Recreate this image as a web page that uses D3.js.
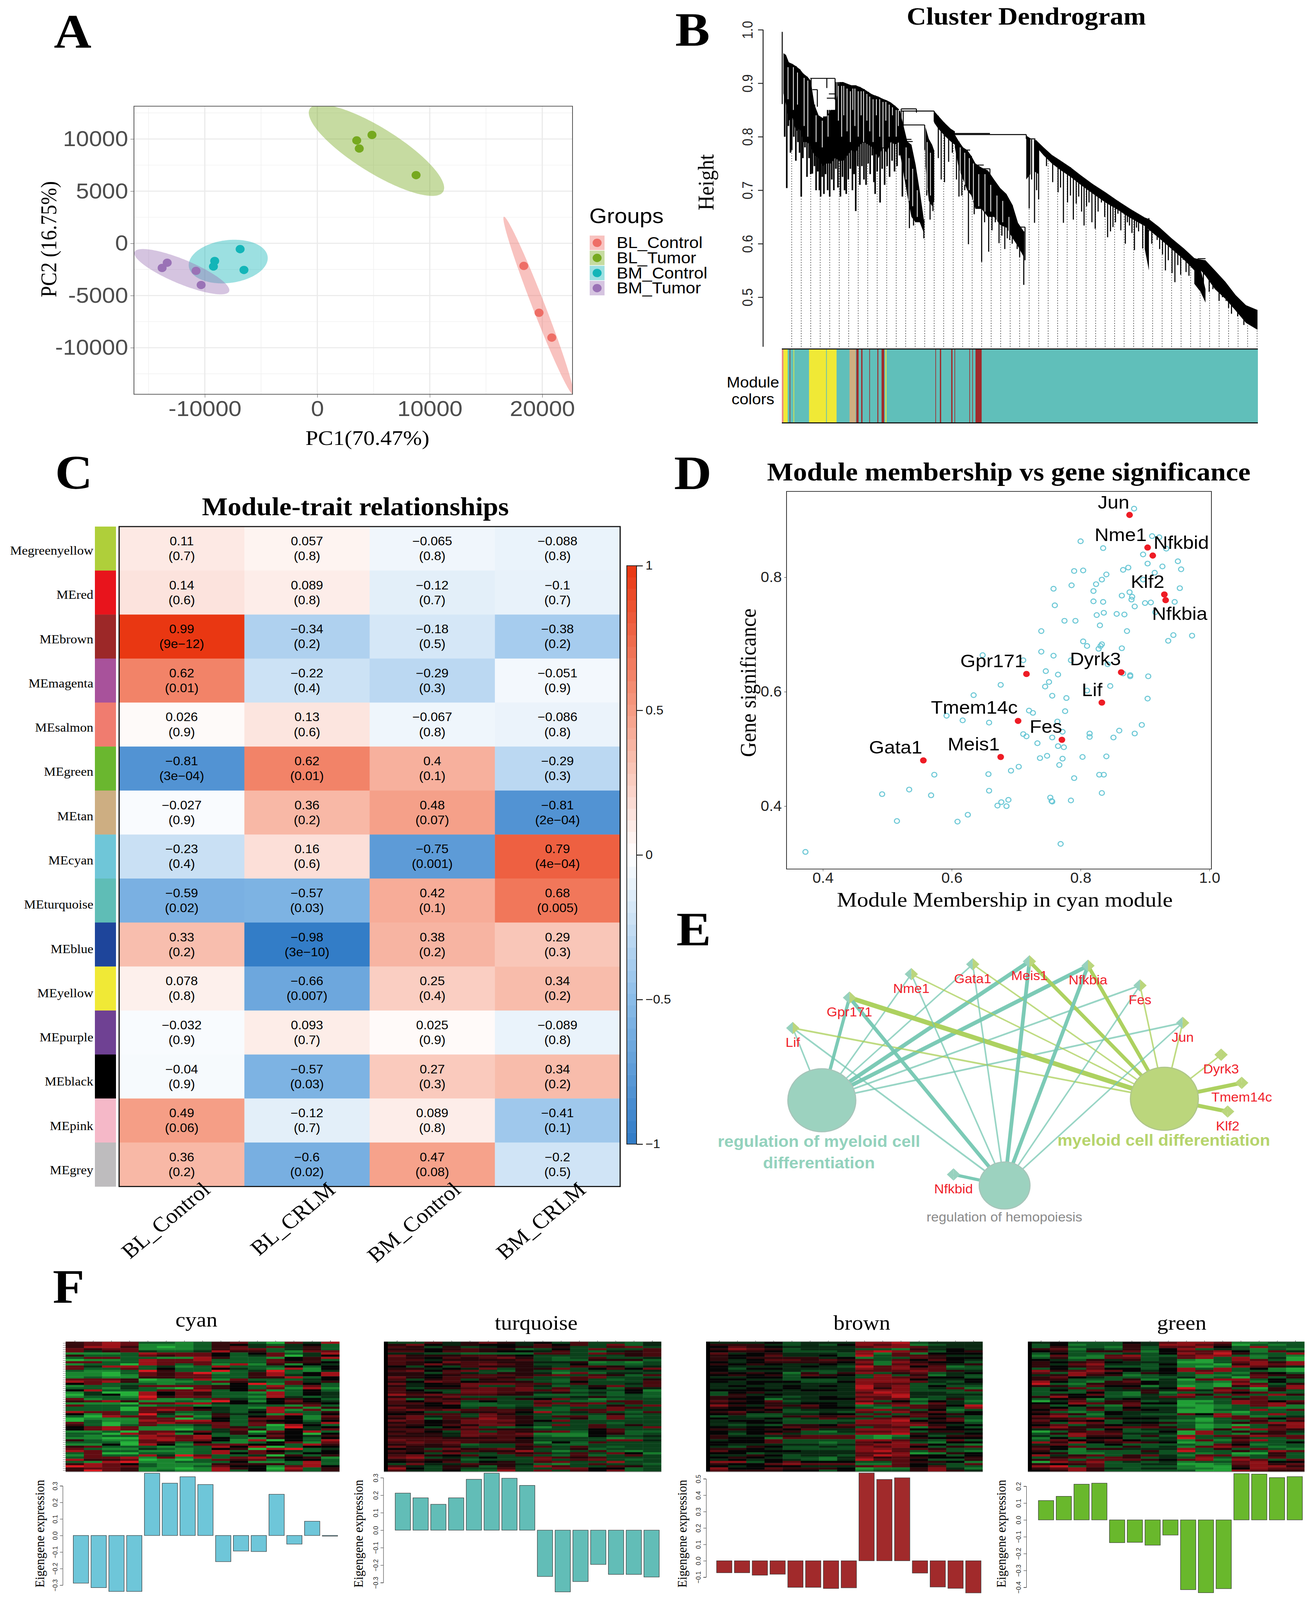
<!DOCTYPE html>
<html>
<head>
<meta charset="utf-8">
<script src="https://cdn.jsdelivr.net/npm/d3@7"></script>
<style>
  html, body { margin: 0; padding: 0; background: #fff; overflow: hidden; }
  svg { display: block; }
</style>
</head>
<body>
<div id="chart"></div>
<script>
// ---- A: PCA ----
var pcaGroups = ["BL_Control", "BL_Tumor", "BM_Control", "BM_Tumor"];
var pcaColors = ["#EE6E66", "#76A91F", "#13B5B8", "#9A72B6"];
var pc1 = [18357, 19714, 20845, 3505, 4862, 3731, 8782, -6860, -9122, -9235, -6521, -13343, -13796, -10780, -10328];
var pc2 = [-2160, -6648, -9030, 9861, 10388, 9086, 6537, -554, -1690, -2216, -2548, -1856, -2355, -2632, -3989];
var pcaGroupOf = [0, 0, 0, 1, 1, 1, 1, 2, 2, 2, 2, 3, 3, 3, 3];
// ellipse per group: centre, half major axis vector, half minor length
var ellCx = [19660, 5259, -7917, -12045];
var ellCy = [-5955, 8920, -1745, -2715];
var ellAx = [3070, 5900, 3500, 4200];
var ellAy = [-8503, -4016, 500, -1900];
var ellB = [560, 2100, 2050, 1150];

// ---- B: dendrogram, [order, top height, bottom height] ----
var massLeft = [[3,.956,.881],[9,.953,.860],[16,.939,.830],[25,.936,.835],[33,.932,.810],[43,.926,.815],[51,.918,.790],[61,.912,.790],[69,.905,.780],[78,.860,.765],[88,.840,.760],[98,.835,.745],[108,.838,.750],[118,.850,.750],[128,.850,.760],[138,.902,.755],[148,.902,.755],[158,.899,.765],[168,.896,.775],[178,.896,.770],[188,.893,.785],[198,.889,.790],[208,.884,.785],[218,.879,.780],[225,.877,.770],[233,.875,.760],[243,.871,.780],[253,.868,.770],[263,.864,.790],[273,.858,.785],[283,.851,.790]];
var massFall1 = [[285,.848,.770],[293,.823,.735],[303,.791,.690],[313,.785,.650],[323,.748,.640],[333,.699,.640],[343,.645,.620]];
var massFall2 = [[347,.818,.745],[355,.796,.680],[363,.785,.670],[368,.774,.680]];
var massShoulder = [[368,.848,.826],[378,.839,.815],[393,.826,.802],[408,.815,.791],[418,.810,.785]];
var massFall3 = [[418,.804,.780],[428,.791,.740],[438,.780,.720],[448,.775,.700],[458,.764,.690],[468,.750,.665],[483,.742,.665],[498,.737,.650],[513,.720,.650],[528,.704,.635],[543,.693,.630],[558,.672,.610],[571,.639,.595],[585,.623,.575]];
var massDrop1 = [[591,.802,.720],[601,.797,.730]];
var massDrop2 = [[611,.795,.735],[621,.780,.730]];
var massSlope = [[613,.795,.783],[633,.780,.765],[653,.766,.750],[673,.756,.738],[698,.743,.725],[723,.728,.710],[753,.711,.693],[783,.696,.677],[813,.680,.663],[843,.665,.648],[878,.649,.633],[888,.646,.626],[913,.631,.610],[943,.610,.590],[973,.591,.570],[998,.573,.550],[1008,.571,.555],[1025,.569,.540],[1048,.550,.515],[1073,.529,.497],[1098,.504,.475],[1123,.485,.452],[1151,.476,.439]];
var massDrop3 = [[878,.640,.590],[888,.623,.550]];
var massDrop4 = [[998,.569,.525],[1013,.553,.510],[1025,.515,.490]];
var dendroMasses = [massLeft, massFall1, massFall2, massShoulder, massFall3, massDrop1, massDrop2, massSlope, massDrop3, massDrop4];
var dripOrder = [6,11,15,20,23,28,33,38,42,46,50,55,60,65,69,73,78,82,86,90,93,97,101,105,110,115,120,125,130,135,141,146,151,155,160,165,170,174,178,183,188,193,198,203,208,213,218,222,225,230,237,242,248,254,260,266,272,278,284,291,297,308,318,328,343,350,358,365,378,385,393,403,412,422,428,435,442,451,458,465,472,483,490,500,508,516,525,532,539,545,551,557,563,569,575,585,598,604,611,616,621,640,655,668,674,681,691,698,705,712,718,725,731,737,743,750,758,765,773,781,788,795,801,807,813,820,831,836,841,847,853,858,863,873,895,908,914,921,928,935,944,951,958,965,971,978,985,1011,1020,1034,1043,1050,1058,1066,1075,1081,1088,1095,1103,1110,1118,1130,1140];
var dripLow = [.800,.704,.820,.770,.775,.800,.755,.790,.770,.688,.760,.780,.725,.760,.730,.731,.745,.700,.735,.700,.688,.725,.693,.730,.700,.688,.720,.700,.740,.705,.688,.725,.700,.693,.720,.740,.700,.730,.661,.745,.710,.745,.720,.710,.750,.730,.765,.715,.693,.735,.677,.740,.710,.745,.725,.755,.735,.745,.765,.688,.740,.629,.634,.640,.610,.690,.645,.661,.760,.720,.715,.753,.770,.720,.688,.690,.700,.599,.700,.655,.690,.566,.640,.585,.625,.640,.601,.615,.590,.610,.607,.600,.607,.590,.575,.523,.666,.720,.639,.700,.683,.745,.715,.696,.705,.639,.677,.690,.645,.675,.688,.660,.634,.670,.677,.640,.628,.660,.677,.650,.612,.623,.631,.640,.656,.625,.600,.640,.634,.620,.588,.630,.623,.591,.600,.607,.590,.580,.550,.569,.545,.528,.560,.542,.570,.547,.540,.520,.520,.510,.515,.535,.493,.500,.493,.480,.469,.485,.464,.470,.448,.455,.445];
var branches = [[68,128,.909],[288,325,.852],[288,368,.848],[293,345,.822],[418,591,.804],[418,503,.806],[591,613,.796],[443,455,.775],[473,488,.747],[483,503,.740],[573,588,.631],[1006,1025,.572],[298,316,.791],[298,313,.795],[73,85,.888],[108,128,.872],[113,128,.880]];
var stems = [[0,.996,.861],[70,.909,.893],[108,.909,.891],[128,.909,.869],[85,.888,.856],[325,.852,.845],[345,.822,.775],[368,.848,.828],[591,.804,.796],[588,.631,.569],[888,.648,.623],[288,.852,.834],[293,.848,.818],[503,.740,.710]];
// white gaps left open inside the left-hand tangle: order, upper end, lower end
var slitOrder = [14,27,37,53,62,82,97,111,136,144,149,157,165,171,176,184,191,197,205,212,220,228,236,244,251,259,267,276,281,300,307,316,327,351,359,431,442,453,463,476,491,505,520,534,549];
var slitTop = [.93,.93,.92,.91,.905,.84,.83,.84,.895,.895,.895,.89,.885,.89,.89,.885,.885,.885,.88,.875,.87,.87,.87,.865,.865,.86,.855,.85,.85,.78,.76,.74,.70,.79,.77,.78,.77,.76,.75,.73,.73,.71,.69,.68,.65];
var slitLow = [.87,.85,.86,.82,.80,.79,.78,.80,.83,.80,.84,.81,.79,.85,.82,.80,.84,.79,.83,.81,.79,.84,.80,.78,.83,.80,.84,.80,.82,.72,.68,.67,.65,.70,.69,.72,.71,.70,.68,.67,.66,.66,.64,.64,.61];
var heightTicks = [0.5, 0.6, 0.7, 0.8, 0.9, 1.0];
// module colour bar
var spanStart = [0,0,5,24,36,84,137,139,209,230,245,270,295,308,320,474,488,523,533,579,588,598];
var spanEnd = [1470,5,18,26,38,137,139,169,228,237,249,272,298,316,323,476,492,527,535,581,590,617];
var spanModule = ["turquoise","salmon","yellow","brown","yellow","yellow","turquoise","yellow","tan","brown","brown","brown","brown","brown","yellow","brown","brown","brown","brown","brown","brown","brown"];

// ---- C: module-trait ----
var traits = ["BL_Control", "BL_CRLM", "BM_Control", "BM_CRLM"];
var modules = ["Megreenyellow","MEred","MEbrown","MEmagenta","MEsalmon","MEgreen","MEtan","MEcyan","MEturquoise","MEblue","MEyellow","MEpurple","MEblack","MEpink","MEgrey"];
var moduleColors = ["#AFCF3A","#E8141C","#9C2828","#A8529B","#F07C6F","#6AB72F","#CDAE82","#6FC6D8","#5FBDB6","#1E459B","#F0E936","#6F4193","#000000","#F5B8C8","#BEBCBE"];
var corr = [
  [0.11,0.057,-0.065,-0.088],[0.14,0.089,-0.12,-0.1],[0.99,-0.34,-0.18,-0.38],[0.62,-0.22,-0.29,-0.051],
  [0.026,0.13,-0.067,-0.086],[-0.81,0.62,0.4,-0.29],[-0.027,0.36,0.48,-0.81],[-0.23,0.16,-0.75,0.79],
  [-0.59,-0.57,0.42,0.68],[0.33,-0.98,0.38,0.29],[0.078,-0.66,0.25,0.34],[-0.032,0.093,0.025,-0.089],
  [-0.04,-0.57,0.27,0.34],[0.49,-0.12,0.089,-0.41],[0.36,-0.6,0.47,-0.2]];
var pvals = [
  ["0.7","0.8","0.8","0.8"],["0.6","0.8","0.7","0.7"],["9e−12","0.2","0.5","0.2"],["0.01","0.4","0.3","0.9"],
  ["0.9","0.6","0.8","0.8"],["3e−04","0.01","0.1","0.3"],["0.9","0.2","0.07","2e−04"],["0.4","0.6","0.001","4e−04"],
  ["0.02","0.03","0.1","0.005"],["0.2","3e−10","0.2","0.3"],["0.8","0.007","0.4","0.2"],["0.9","0.7","0.9","0.8"],
  ["0.9","0.03","0.3","0.2"],["0.06","0.7","0.8","0.1"],["0.2","0.02","0.08","0.5"]];
var corrLegendTicks = [1, 0.5, 0, -0.5, -1];

// ---- D: scatter ----
var membership = [.373,.492,.515,.534,.568,.573,.609,.625,.658,.657,.671,.677,.685,.688,.692,.704,.753,.755,.756,.785,.769,.790,.833,.829,.836,.803,.772,.767,.748,.737,.765,.774,.733,.756,.716,.711,.764,.772,.776,.814,.814,.851,.860,.884,.895,.840,.592,.617,.658,.720,.726,.634,.676,.745,.751,.756,.778,.810,.846,.904,.746,.765,.905,.877,.877,.866,.842,.785,.739,.758,.711,.648,.804,.810,.828,.831,.833,.864,.936,.944,.973,.739,.830,.872,.775,.792,.825,.836,.856,.868,.916,.760,.820,.835,.900,.909,.946,.884,.879,.880,.876,.864,.820,.954,.758,.786,.824,.833,.840,.897,.790,.804,.866,.874,.915,.927,.904,.956,.951,.897,.933,.835,.800,.911,.922,.883];
var significance = [.320,.421,.374,.429,.419,.455,.373,.385,.427,.456,.401,.407,.400,.411,.462,.469,.415,.409,.408,.410,.334,.449,.423,.455,.455,.486,.483,.472,.488,.484,.505,.503,.510,.520,.522,.526,.548,.530,.566,.527,.521,.520,.532,.527,.542,.487,.558,.550,.546,.567,.563,.594,.612,.609,.617,.593,.589,.602,.610,.588,.636,.630,.627,.629,.627,.632,.648,.655,.670,.663,.655,.664,.688,.680,.675,.680,.683,.676,.689,.699,.698,.706,.716,.706,.724,.724,.734,.738,.736,.735,.739,.751,.758,.757,.755,.756,.757,.749,.761,.766,.774,.768,.776,.781,.780,.786,.788,.796,.805,.796,.811,.812,.813,.817,.808,.819,.824,.814,.828,.840,.850,.851,.863,.872,.870,.920];
var hubGenes = ["Jun","Nme1","Nfkbid","Klf2","Nfkbia","Gpr171","Dyrk3","Lif","Tmem14c","Fes","Meis1","Gata1"];
var hubMembership = [.876,.904,.912,.930,.932,.716,.863,.833,.703,.771,.676,.556];
var hubSignificance = [.909,.852,.838,.770,.760,.631,.634,.581,.549,.516,.486,.480];
var hubLabelDx = [-41,-69,73,-43,36,-86,-66,-25,-112,-41,-69,-71];
var hubLabelDy = [-35,-35,-36,-35,37,-36,-36,-35,-37,-36,-35,-36];

// ---- E: network ----
var genes = ["Lif","Gpr171","Nme1","Gata1","Meis1","Nfkbia","Fes","Jun","Dyrk3","Tmem14c","Klf2","Nfkbid"];
var geneX = [2.5,14.6,27.8,40.9,53,65.5,76.6,85.7,93.9,98.3,95.3,36.8];
var geneY = [29.6,19.1,11,7.6,6.6,8.1,14.9,27.8,38.8,48.5,58.4,80.1];
var terms = ["regulation of myeloid cell differentiation","myeloid cell differentiation","regulation of hemopoiesis"];
var termX = [8.7,81.8,47.7];
var termY = [54.5,54,83.9];
var termSize = [8,8,6];
var edgeTerm = [0,0,0,0,0,0,0,0, 1,1,1,1,1,1,1,1,1,1,1, 2,2,2,2,2,2,2,2,2];
var edgeGene = [0,1,2,3,4,5,6,7, 0,1,2,3,4,5,6,7,8,9,10, 0,1,2,3,4,5,6,7,11];
var edgeWeight = [1,3,1,1,4,4,1.3,1.3, 1.3,5,1,1,3.5,3.5,1,1,1,4,4, 1.2,3.5,1,1,3.5,3.5,1,1,3];

// ---- F: heatmaps and eigengene bars ----
var heatCyan = ["678733236731748","678722236543453","688621236747463","767722236773463","746743348663277","222387775357348","633376775347145","377332286332568","122387783337563","773387773337665","233187372826254","748834238333535","733735335432825","322396339349324","221376792368358","221276773368458","232266773366835","777612382733345","878622237643746","573332332592753","233477776538373","332432176537282","583337783572353","241185763328354","145185763338354","233296773328434","723382237435653","678622329525754","222177884545665","733323323333273","333177754328726","333178764348272","877376334358336","527394236442835","318773726357527","122277135377526","132287885365535","731278777376548","631373347371853","578722237632945","578722134762547","223177474617583","331878253636515","323387783357546","221188785326535","632278775281538","333176353235727","225185277755386","673332338581355","732243235618934","873322238375435","371133238576355","273384973341636","377827283786562","866712137673553","328922333522383","687532226666383","987732237552785","677622128651836","697623228352736"];
var heatTurq = ["337468645373324","685465547573824","763634567633783","665676623538337","775776554732467","443322227738767","866677653333367","765767863237334","774666673226662","765877664461213","768678763352223","535376664377634","664548366835758","785783263233334","663743664182443","665677767837627","865777673378333","736736733273236","658756663253337","845688877373347","645583374236837","736678783735264","753388787823351","765388764634252","978777662223232","666833333346332","827677365831233","757735338322773","775822337878373","665522238383638","866537343233873","787877762277833","653366759347327","567738643233633","784738763772823","682779763362833","875688865833333","675688763333233","765768853837363","653583231337338","776777663335733","675383767825722","766488781115623","666487772115334","777666753333123","877777763333884","787876661527333","676723373223333","866633367373233","563867863362333","767676693137213","653833767373851","786573373272373","893435338767333","676623338378323","565735637833933","384476642137332","743662639733763","953633733885523","743522938375823"];
var heatBrown = ["444534448893444","666434358782344","576544447887444","687634443326454","566533348987356","745644438272555","655744539377644","656666452337655","645776767375754","545666658286553","656544547277646","544445439785723","535544448787733","544443347778764","656526368367345","565637653836243","445535543877553","554433348885445","545553358887435","445444448773344","454454549783533","445454449683472","555545548883337","356444447984433","364544448894444","665434547794343","655244558772363","765734447353542","655645549772743","864667542387659","655746553237638","556534448873523","675633437386735","563344553737565","343367677367643","544534743783573","455433338895672","445533348887553","434366577788645","545576663772753","665657448885555","545563247783664","535743338896445","644467772125366","655277772136555","455733338874373","555733237683255","544444347887532","436533438785367","665433338877633","755554448973732","553444447781265","446534437985535","565433248676556","454543249775336","883575553376652","655787772275437","545554447875733","855766651226842","766655352336864"];
var heatGreen = ["453335478872233","352336488761323","363326377853833","672436358343232","563667257785274","353334358796338","273278337883232","362277347838241","543646342138731","656754441137868","647844352216878","656733342128764","353755358383521","867875458783321","738753653832653","468662343223766","675433334231736","663336241788353","853267542327253","932666542218736","663755241216848","347346459273168","353744647487263","333532623375733","365732438637386","685533477373733","356245443336733","147366341138757","558767551238786","635327331123782","653635442123322","573736541133837","632354441121333","576254337582383","783344443387234","667865543137757","756534432133636","638735563236788","573654633121368","786677763128378","466353447262876","136763351836364","368774441832663","438663638377877","253553349336337","375675442727833","868567651236335","473353333275233","657336342787323","752664448363732","632333639336387","562233433231163","846736742772363","367376343837373","673777657828737","187834342337855","656733441127867","893733332116886","678643442215877","568633333118766"];
var heatSets = [heatCyan, heatTurq, heatBrown, heatGreen];
var eigenNames = ["cyan","turquoise","brown","green"];
var eigenCyan = [-.288,-.315,-.338,-.338,.376,.316,.355,.308,-.158,-.094,-.097,.249,-.052,.086,-.004];
var eigenTurq = [.212,.185,.148,.185,.291,.326,.297,.256,-.265,-.353,-.294,-.196,-.253,-.253,-.268];
var eigenBrown = [-.073,-.073,-.088,-.082,-.162,-.162,-.169,-.165,.535,.496,.506,-.075,-.16,-.168,-.196];
var eigenGreen = [.115,.14,.212,.218,-.135,-.133,-.15,-.09,-.414,-.432,-.408,.275,.272,.251,.257];
var eigenSets = [eigenCyan, eigenTurq, eigenBrown, eigenGreen];
var eigenColors = ["#6EC6D9","#62BDB7","#A12A2B","#69B82C"];
var eigenTicks = [[-.3,-.2,-.1,0,.1,.2,.3],[-.3,-.2,-.1,0,.1,.2,.3],[-.1,0,.1,.2,.3,.4,.5],[-.4,-.3,-.2,-.1,0,.1,.2]];

var SERIF = "'Liberation Serif', 'Times New Roman', serif";
var SANS = "'Liberation Sans', Arial, sans-serif";

// the drawing area fills whatever window the page gets
var svg = d3.select("#chart").append("svg")
  .attr("viewBox", "0 0 3357 4415")
  .attr("preserveAspectRatio", "none")
  .style("width", "100vw")
  .style("height", "100vh")
  .style("background", "#fff");

function txt(g, x, y, s, o) {
  o = o || {};
  var t = g.append("text")
    .attr("x", x).attr("y", y)
    .attr("font-family", o.family || SANS)
    .attr("font-size", o.size || 40)
    .attr("font-weight", o.weight || "normal")
    .attr("text-anchor", o.anchor || "middle")
    .attr("fill", o.fill || "#000")
    .text(s);
  if (o.rot != null) t.attr("transform", "rotate(" + o.rot + " " + x + " " + y + ")");
  return t;
}

function styleAxis(g, size, color, family) {
  g.selectAll("text").attr("font-size", size).attr("font-family", family || SANS).attr("fill", color);
  g.selectAll("line").attr("stroke", color);
  g.selectAll("path").attr("stroke", color);
}

// panel letters
var panelLetters = ["A","B","C","D","E","F"];
var letterX = [138,1729,141,1726,1732,135];
var letterY = [132,126,1348,1350,2608,3595];
panelLetters.forEach(function(l, i) {
  txt(svg, letterX[i], letterY[i], l, {family: SERIF, size: 133, weight: "bold", anchor: "start"});
});

// ------------------------------ A ------------------------------
(function() {
  var x = d3.scaleLinear().domain([-16300, 22690]).range([343, 1466]);
  var y = d3.scaleLinear().domain([13142, -14462]).range([293, 1088]);
  var g = svg.append("g");
  var clip = svg.append("clipPath").attr("id", "pcaClip");
  clip.append("rect").attr("x", 343).attr("y", 293).attr("width", 1123).attr("height", 795);

  var xMajor = [-10000, 0, 10000, 20000], xMinor = [-15000, -5000, 5000, 15000];
  var yMajor = [-10000, -5000, 0, 5000, 10000], yMinor = [-12500, -7500, -2500, 2500, 7500, 12500];
  xMinor.forEach(function(v) { g.append("line").attr("x1", x(v)).attr("x2", x(v)).attr("y1", 293).attr("y2", 1088).attr("stroke", "#f0f0f0").attr("stroke-width", 1.5); });
  yMinor.forEach(function(v) { g.append("line").attr("y1", y(v)).attr("y2", y(v)).attr("x1", 343).attr("x2", 1466).attr("stroke", "#f0f0f0").attr("stroke-width", 1.5); });
  xMajor.forEach(function(v) { g.append("line").attr("x1", x(v)).attr("x2", x(v)).attr("y1", 293).attr("y2", 1088).attr("stroke", "#ebebeb").attr("stroke-width", 3); });
  yMajor.forEach(function(v) { g.append("line").attr("y1", y(v)).attr("y2", y(v)).attr("x1", 343).attr("x2", 1466).attr("stroke", "#ebebeb").attr("stroke-width", 3); });

  var ell = d3.line().x(function(d) { return x(d[0]); }).y(function(d) { return y(d[1]); }).curve(d3.curveLinearClosed);
  pcaGroups.forEach(function(name, i) {
    var a = Math.hypot(ellAx[i], ellAy[i]);
    var px = -ellAy[i] / a * ellB[i], py = ellAx[i] / a * ellB[i];
    var pts = d3.range(0, 2 * Math.PI, 0.03).map(function(t) {
      return [ellCx[i] + ellAx[i] * Math.cos(t) + px * Math.sin(t), ellCy[i] + ellAy[i] * Math.cos(t) + py * Math.sin(t)];
    });
    g.append("path").attr("d", ell(pts)).attr("fill", pcaColors[i]).attr("fill-opacity", 0.42).attr("clip-path", "url(#pcaClip)");
  });

  g.selectAll(".pca").data(pc1).enter().append("circle")
    .attr("cx", function(d) { return x(d); })
    .attr("cy", function(d, i) { return y(pc2[i]); })
    .attr("r", 11.5)
    .attr("fill", function(d, i) { return pcaColors[pcaGroupOf[i]]; });

  g.append("rect").attr("x", 343).attr("y", 293).attr("width", 1123).attr("height", 795)
    .attr("fill", "none").attr("stroke", "#555").attr("stroke-width", 2);

  var ax = g.append("g").attr("transform", "translate(0,1088)")
    .call(d3.axisBottom(x).tickValues(xMajor).tickFormat(String).tickSize(9).tickPadding(8));
  ax.select(".domain").remove();
  styleAxis(ax, 60, "#4d4d4d");
  var ay = g.append("g").attr("transform", "translate(343,0)")
    .call(d3.axisLeft(y).tickValues(yMajor).tickFormat(String).tickSize(9).tickPadding(6));
  ay.select(".domain").remove();
  styleAxis(ay, 60, "#4d4d4d");

  txt(g, 941, 1228, "PC1(70.47%)", {family: SERIF, size: 58});
  txt(g, 144, 660, "PC2 (16.75%)", {family: SERIF, size: 56, rot: -90});

  txt(g, 1509, 615, "Groups", {size: 58, anchor: "start"});
  var ly = d3.scaleBand().domain(pcaGroups).range([650, 815]).paddingInner(0.04);
  pcaGroups.forEach(function(name, i) {
    g.append("rect").attr("x", 1510).attr("y", ly(name)).attr("width", 38).attr("height", ly.bandwidth())
      .attr("fill", pcaColors[i]).attr("fill-opacity", 0.42);
    g.append("circle").attr("cx", 1529).attr("cy", ly(name) + ly.bandwidth() / 2).attr("r", 11.5).attr("fill", pcaColors[i]);
    txt(g, 1579, ly(name) + ly.bandwidth() / 2 + 15, name, {size: 44, anchor: "start"});
  });
})();

// ------------------------------ B ------------------------------
(function() {
  var x = d3.scaleLinear().domain([0, 1151]).range([2003, 3220]);
  var y = d3.scaleLinear().domain([1.0, 0.5]).range([82, 820]);
  var g = svg.append("g");
  txt(g, 2628, 68, "Cluster Dendrogram", {family: SERIF, size: 69, weight: "bold"});
  txt(g, 1827, 503, "Height", {family: SERIF, size: 57, rot: -90});

  var ay = g.append("g").attr("transform", "translate(1954,0)")
    .call(d3.axisLeft(y).tickValues(heightTicks).tickFormat(d3.format(".1f")).tickSize(13));
  ay.select(".domain").remove();
  styleAxis(ay, 36, "#222");
  ay.selectAll("line").attr("stroke-width", 2.5);
  ay.selectAll("text").attr("transform", "rotate(-90)").attr("x", 0).attr("y", -27).attr("dy", 0).attr("text-anchor", "middle");
  g.append("line").attr("x1", 1954).attr("x2", 1954).attr("y1", y(1)).attr("y2", 957).attr("stroke", "#222").attr("stroke-width", 2.5);

  // guide lines go from the baseline up into the tree
  var allRows = d3.merge(dendroMasses).slice().sort(function(a, b) { return a[0] - b[0]; });
  var bis = d3.bisector(function(d) { return d[0]; }).left;
  function topAt(u) {
    var i = Math.max(0, Math.min(allRows.length - 1, bis(allRows, u)));
    return allRows[i][1];
  }
  d3.range(23, 1152, 23).forEach(function(u) {
    g.append("line").attr("x1", x(u)).attr("x2", x(u)).attr("y1", 957).attr("y2", y(topAt(u)))
      .attr("stroke", "#444").attr("stroke-width", 1.6).attr("stroke-dasharray", "3 4");
  });

  var area = d3.area().x(function(d) { return x(d[0]); }).y0(function(d) { return y(d[2]); }).y1(function(d) { return y(d[1]); });
  dendroMasses.forEach(function(m) { g.append("path").attr("d", area(m)).attr("fill", "#000"); });

  dripOrder.forEach(function(u, i) {
    g.append("line").attr("x1", x(u)).attr("x2", x(u)).attr("y1", y(topAt(u))).attr("y2", y(dripLow[i]))
      .attr("stroke", "#000").attr("stroke-width", u < 300 ? 4 : 2.8);
  });
  slitOrder.forEach(function(u, i) {
    g.append("line").attr("x1", x(u)).attr("x2", x(u)).attr("y1", y(slitTop[i])).attr("y2", y(slitLow[i]))
      .attr("stroke", "#fff").attr("stroke-width", 2);
  });
  branches.forEach(function(b) {
    g.append("line").attr("x1", x(b[0])).attr("x2", x(b[1])).attr("y1", y(b[2])).attr("y2", y(b[2])).attr("stroke", "#000").attr("stroke-width", 2.5);
  });
  stems.forEach(function(s) {
    g.append("line").attr("x1", x(s[0])).attr("x2", x(s[0])).attr("y1", y(s[1])).attr("y2", y(s[2])).attr("stroke", "#000").attr("stroke-width", 2.5);
  });

  // module colour bar
  var bx = d3.scaleLinear().domain([0, 1470]).range([2002, 3221]);
  var barColor = d3.scaleOrdinal()
    .domain(["turquoise","salmon","yellow","brown","tan"])
    .range(["#60BFBA","#F08A7C","#F0E936","#A12A2B","#CFAE80"]);
  spanStart.forEach(function(s, i) {
    g.append("rect").attr("x", bx(s)).attr("y", 963).attr("width", bx(spanEnd[i]) - bx(s)).attr("height", 204)
      .attr("fill", barColor(spanModule[i]));
  });
  [963, 1167].forEach(function(v) {
    g.append("line").attr("x1", 2002).attr("x2", 3221).attr("y1", v).attr("y2", v).attr("stroke", "#111").attr("stroke-width", 3);
  });
  txt(g, 1928, 1069, "Module", {size: 41});
  txt(g, 1928, 1116, "colors", {size: 41});
})();

// ------------------------------ C ------------------------------
(function() {
  var g = svg.append("g");
  var x = d3.scaleBand().domain(traits).range([305, 1588]);
  var y = d3.scaleBand().domain(modules).range([1453, 3274]);
  var color = d3.scaleLinear().domain([-1, -0.5, 0, 0.5, 1])
    .range(["#2F7AC6", "#8ABCE8", "#FFFFFF", "#F59C84", "#E93510"]);

  txt(g, 910, 1422, "Module-trait relationships", {family: SERIF, size: 70, weight: "bold"});

  modules.forEach(function(m, r) {
    g.append("rect").attr("x", 243).attr("y", y(m)).attr("width", 54).attr("height", y.bandwidth() + 0.5).attr("fill", moduleColors[r]);
    txt(g, 239, y(m) + y.bandwidth() / 2 + 17 + r * 0.7, m, {family: SERIF, size: 34, anchor: "end"});
    traits.forEach(function(t, c) {
      g.append("rect").attr("x", x(t)).attr("y", y(m)).attr("width", x.bandwidth() + 0.5).attr("height", y.bandwidth() + 0.5)
        .attr("fill", color(corr[r][c]));
      var cx = x(t) + x.bandwidth() / 2, cy = y(m) + y.bandwidth() / 2;
      txt(g, cx, cy - 9, String(corr[r][c]).replace("-", "−"), {size: 33});
      txt(g, cx, cy + 32, "(" + pvals[r][c] + ")", {size: 33});
    });
  });
  g.append("rect").attr("x", 305).attr("y", 1453).attr("width", 1283).attr("height", 1821)
    .attr("fill", "none").attr("stroke", "#111").attr("stroke-width", 3);

  traits.forEach(function(t) {
    var cx = x(t) + x.bandwidth() / 2;
    txt(g, cx + 76, 3288, t, {family: SERIF, size: 58, anchor: "end", rot: -42});
  });

  // colour legend
  var ly = d3.scaleLinear().domain([1, -1]).range([1561, 3157]);
  d3.range(-1, 1, 0.04).forEach(function(v) {
    g.append("rect").attr("x", 1605).attr("y", ly(v + 0.04)).attr("width", 25).attr("height", ly(v) - ly(v + 0.04) + 0.5)
      .attr("fill", color(v + 0.02));
  });
  g.append("rect").attr("x", 1605).attr("y", 1561).attr("width", 25).attr("height", 1596)
    .attr("fill", "none").attr("stroke", "#222").attr("stroke-width", 2);
  var al = g.append("g").attr("transform", "translate(1630,0)")
    .call(d3.axisRight(ly).tickValues(corrLegendTicks).tickFormat(function(d) { return String(d).replace("-", "−"); }).tickSize(16).tickPadding(7));
  al.select(".domain").remove();
  styleAxis(al, 33, "#111");
  al.selectAll("line").attr("stroke-width", 2.5);
})();

// ------------------------------ D ------------------------------
(function() {
  var g = svg.append("g");
  var x = d3.scaleLinear().domain([0.4, 1.0]).range([2107, 3097]);
  var y = d3.scaleLinear().domain([0.8, 0.4]).range([1593, 2224.5]);
  txt(g, 2583, 1326, "Module membership vs gene significance", {family: SERIF, size: 71, weight: "bold"});
  g.selectAll(".mm").data(membership).enter().append("circle")
    .attr("cx", function(d) { return x(d); })
    .attr("cy", function(d, i) { return y(significance[i]); })
    .attr("r", 6.5)
    .attr("fill", "none")
    .attr("stroke", "#6CC8D6")
    .attr("stroke-width", 2.8);
  g.append("rect").attr("x", 2014).attr("y", 1356).attr("width", 1088).attr("height", 1042)
    .attr("fill", "none").attr("stroke", "#333").attr("stroke-width", 2);
  var ax = g.append("g").attr("transform", "translate(0,2398)")
    .call(d3.axisBottom(x).tickValues([.4,.6,.8,1.0]).tickFormat(d3.format(".1f")).tickSize(6).tickPadding(4));
  ax.select(".domain").remove();
  styleAxis(ax, 39, "#222");
  var ay = g.append("g").attr("transform", "translate(2014,0)")
    .call(d3.axisLeft(y).tickValues([.4,.6,.8]).tickFormat(d3.format(".1f")).tickSize(6).tickPadding(6));
  ay.select(".domain").remove();
  styleAxis(ay, 39, "#222");
  txt(g, 2573, 2502, "Module Membership in cyan module", {family: SERIF, size: 58});
  txt(g, 1935, 1884, "Gene significance", {family: SERIF, size: 57, rot: -90});

  hubGenes.forEach(function(name, i) {
    var px = x(hubMembership[i]), py = y(hubSignificance[i]);
    g.append("circle").attr("cx", px).attr("cy", py).attr("r", 8.5).attr("fill", "#EE1C25");
    txt(g, px + hubLabelDx[i], py + hubLabelDy[i] + 17, name, {size: 50});
  });
})();

// ------------------------------ E ------------------------------
(function() {
  var g = svg.append("g");
  var nx = d3.scaleLinear().domain([0, 100]).range([2000, 3200]);
  var ny = d3.scaleLinear().domain([0, 100]).range([2600, 3400]);
  var edgeW = d3.scaleLinear().domain([1, 5]).range([4, 13]);
  var termFill = ["#9CD2BF", "#BBD67C", "#9CD2BF"];
  var edgeStroke = ["#75C7B2", "#A9CF57", "#75C7B2"];
  var termR = d3.scaleLinear().domain([6, 8]).range([65, 87]);

  edgeTerm.forEach(function(t, i) {
    var gi = edgeGene[i];
    g.append("line")
      .attr("x1", nx(geneX[gi])).attr("y1", ny(geneY[gi]))
      .attr("x2", nx(termX[t])).attr("y2", ny(termY[t]))
      .attr("stroke", edgeStroke[t])
      .attr("stroke-width", edgeW(edgeWeight[i]))
      .attr("stroke-opacity", edgeWeight[i] < 2 ? 0.75 : 0.95);
  });
  terms.forEach(function(name, t) {
    g.append("circle").attr("cx", nx(termX[t])).attr("cy", ny(termY[t])).attr("r", termR(termSize[t]))
      .attr("fill", termFill[t]).attr("stroke", t === 1 ? "#AFC68A" : "#A7C5BA").attr("stroke-width", 3);
  });
  genes.forEach(function(name, i) {
    var px = nx(geneX[i]), py = ny(geneY[i]), r = 17;
    var links = edgeGene.map(function(v, k) { return v === i ? edgeTerm[k] : -1; }).filter(function(v) { return v >= 0; });
    var hasTeal = links.indexOf(0) >= 0 || links.indexOf(2) >= 0;
    var hasOlive = links.indexOf(1) >= 0;
    g.append("path").attr("d", "M" + px + " " + (py - r) + "L" + (px - r) + " " + py + "L" + px + " " + (py + r) + "Z")
      .attr("fill", hasTeal ? "#97D1BE" : "#BBD67C");
    g.append("path").attr("d", "M" + px + " " + (py - r) + "L" + (px + r) + " " + py + "L" + px + " " + (py + r) + "Z")
      .attr("fill", hasOlive ? "#BBD67C" : "#97D1BE");
    txt(g, px, py + 52, name, {size: 35, fill: "#F01F2B"});
  });
  txt(g, 2097, 3165, "regulation of myeloid cell", {size: 43, weight: "bold", fill: "#93D2BD"});
  txt(g, 2097, 3224, "differentiation", {size: 43, weight: "bold", fill: "#93D2BD"});
  txt(g, 2980, 3161, "myeloid cell differentiation", {size: 43, weight: "bold", fill: "#B6D46C"});
  txt(g, 2572, 3370, "regulation of hemopoiesis", {size: 35, fill: "#8A8A8A"});
})();

// ------------------------------ F ------------------------------
(function() {
  var g = svg.append("g");
  var heatX0 = [168, 983, 1808, 2632];      // left edge with black strip
  var heatStrip = [0, 10, 10, 10];
  var heatX1 = [869, 1693, 2516, 3340];
  var barX0 = [187.6, 1012, 1835, 2659];
  var barX1 = [864.5, 1688, 2512, 3335];
  var axisX = [160.5, 981.5, 1808, 2628];
  var titleX = [503, 1373, 2207, 3026];
  var titleY = [3660, 3669, 3669, 3669];
  var yLabelX = [113, 929, 1758, 2575];
  // pixel spans of two known values for each bar chart
  var yDom = [[.3,-.3],[.3,-.3],[.5,-.1],[.2,-.4]];
  var yRng = [[4100,4374],[4077.6,4367],[4080.5,4352],[4101,4380]];
  var heatColor = d3.scaleLinear().domain([1, 3, 5, 7, 9]).range(["#24B039", "#0E5A24", "#050505", "#630C12", "#D9181E"]);
  var heatGain = [1, 0.7, 0.85, 0.9];   // the turquoise and brown maps read darker

  eigenNames.forEach(function(name, p) {
    txt(g, titleX[p], titleY[p], name, {family: SERIF, size: 57});

    var rows = heatSets[p];
    var hy = d3.scaleBand().domain(d3.range(rows.length)).range([3702, 4061]);
    var hx = d3.scaleBand().domain(d3.range(15)).range([heatX0[p] + heatStrip[p], heatX1[p]]);
    if (heatStrip[p]) g.append("rect").attr("x", heatX0[p]).attr("y", 3702).attr("width", heatStrip[p]).attr("height", 359).attr("fill", "#000");
    rows.forEach(function(row, r) {
      d3.range(15).forEach(function(c) {
        g.append("rect").attr("x", hx(c)).attr("y", hy(r)).attr("width", hx.bandwidth() + 0.4).attr("height", hy.bandwidth() + 0.4)
          .attr("fill", heatColor(5 + (+row[c] - 5) * heatGain[p]));
      });
    });
    var topTicks = g.append("g").attr("transform", "translate(0,3702)")
      .call(d3.axisTop(d3.scalePoint().domain(d3.range(15)).range([hx(0) + hx.bandwidth() / 2, hx(14) + hx.bandwidth() / 2])).tickSize(3).tickFormat(""));
    topTicks.select(".domain").attr("stroke", "#777");
    topTicks.selectAll("line").attr("stroke", "#333");
    if (p === 0) {
      var rowTicks = g.append("g").attr("transform", "translate(" + heatX0[p] + ",0)")
        .call(d3.axisLeft(d3.scalePoint().domain(d3.range(rows.length)).range([3706, 4057])).tickSize(7).tickFormat(""));
      rowTicks.select(".domain").remove();
      rowTicks.selectAll("line").attr("stroke", "#999").attr("stroke-width", 1.5);
    }
    g.append("line").attr("x1", heatX0[p]).attr("x2", heatX1[p]).attr("y1", 4061).attr("y2", 4061).attr("stroke", "#888").attr("stroke-width", 2);

    var by = d3.scaleLinear().domain(yDom[p]).range(yRng[p]);
    var bx = d3.scaleBand().domain(d3.range(15)).range([barX0[p], barX1[p]]).paddingInner(0.14);
    g.selectAll(".bar" + p).data(eigenSets[p]).enter().append("rect")
      .attr("x", function(d, i) { return bx(i); })
      .attr("y", function(d) { return Math.min(by(d), by(0)); })
      .attr("width", bx.bandwidth())
      .attr("height", function(d) { return Math.abs(by(d) - by(0)); })
      .attr("fill", eigenColors[p])
      .attr("stroke", "#333")
      .attr("stroke-width", 1.2);

    var ay = g.append("g").attr("transform", "translate(" + axisX[p] + ",0)")
      .call(d3.axisLeft(by).tickValues(eigenTicks[p]).tickFormat(function(d) { return d3.format(".1f")(d).replace("-", "−"); }).tickSize(7));
    styleAxis(ay, 17, "#222");
    ay.selectAll("text").attr("transform", "rotate(-90)").attr("x", 0).attr("y", -14).attr("dy", 0).attr("text-anchor", "middle");

    txt(g, yLabelX[p], 4232, "Eigengene expression", {family: SERIF, size: 34, rot: -90});
  });
})();
</script>
</body>
</html>
